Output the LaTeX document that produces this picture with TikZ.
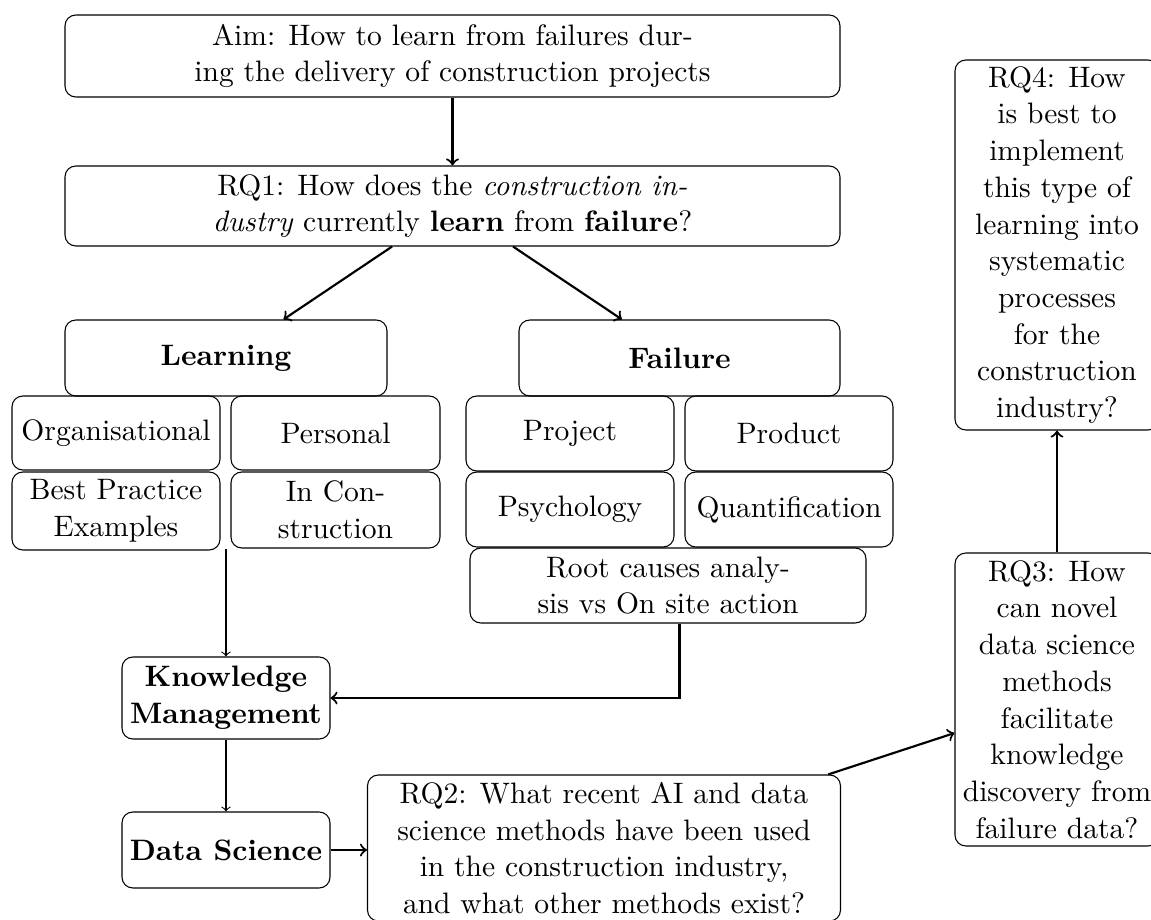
\documentclass[tikz,border=0pt]{standalone}
\usetikzlibrary{calc}
\def\pu{0.3704pt}
\tikzset{
  box/.style={draw, rounded corners=4pt, align=center, inner sep=0pt,
    font=\fontsize{10.95}{13.6}\selectfont},
  bw/.style={minimum width=#1*\pu},
  bh/.style={minimum height=#1*\pu},
  arr/.style={->, thick},
  tarr/.style={->},
}
\begin{document}
\begin{tikzpicture}[x=\pu, y=-\pu]
\useasboundingbox (0,0) rectangle (1151,920);
\clip (0,0) rectangle (1151,920);

\node[box, bw=775, bh=82] (aim) at (452.5,56)
  {Aim: How to learn from failures dur-\\ing the delivery of construction projects};
\node[box, bw=775, bh=80] (rq1) at (452.5,206)
  {RQ1: How does the \textit{construction in-}\\\textit{dustry} currently \textbf{learn} from \textbf{failure}?};

\node[box, bw=322, bh=76] (learn) at (226,358) {\textbf{Learning}};
\node[box, bw=321, bh=76] (fail) at (679.5,358) {\textbf{Failure}};

\node[box, bw=208, bh=74] (org) at (116,433) {Organisational};
\node[box, bw=209, bh=74] (pers) at (335.5,433) {Personal};
\node[box, bw=208, bh=78] (best) at (116,511) {Best Practice\\Examples};
\node[box, bw=209, bh=76] (incon) at (335.5,510) {In Con-\\struction};

\node[box, bw=208, bh=75] (proj) at (570,433.5) {Project};
\node[box, bw=208, bh=75] (prod) at (789,433.5) {Product};
\node[box, bw=208, bh=75] (psy) at (570,509.5) {Psychology};
\node[box, bw=208, bh=75] (quant) at (789,509.5) {Quantification};
\node[box, bw=396, bh=75] (root) at (668,585.5) {Root causes analy-\\sis vs On site action};

\node[box, bw=208, bh=82] (km) at (226,698) {\textbf{Knowledge}\\\textbf{Management}};
\node[box, bw=208, bh=76] (ds) at (226,850) {\textbf{Data Science}};
\node[box, bw=473, bh=146] (rq2) at (604,848)
  {RQ2: What recent AI and data\\science methods have been used\\in the construction industry,\\and what other methods exist?};
\node[box, bw=204, bh=293] (rq3) at (1057,699.5)
  {RQ3: How\\can novel\\data science\\methods\\facilitate\\knowledge\\discovery from\\failure data?};
\node[box, bw=204, bh=370] (rq4) at (1057,245)
  {RQ4: How\\is best to\\implement\\this type of\\learning into\\systematic\\processes\\for the\\construction\\industry?};

\coordinate (lgb) at (226,549);

\draw[arr] (aim) -- (rq1);
\draw[arr] (rq1) -- (learn);
\draw[arr] (rq1) -- (fail);
\draw[tarr] (lgb) -- (km);
\draw[arr] (root.south -| fail.south) |- (km.east);
\draw[tarr] (km) -- (ds);
\draw[arr] (ds.east) -- (ds.east -| rq2.west);
\draw[arr] (rq2) -- (rq3);
\draw[arr] (rq3) -- (rq4);
\end{tikzpicture}
\end{document}
